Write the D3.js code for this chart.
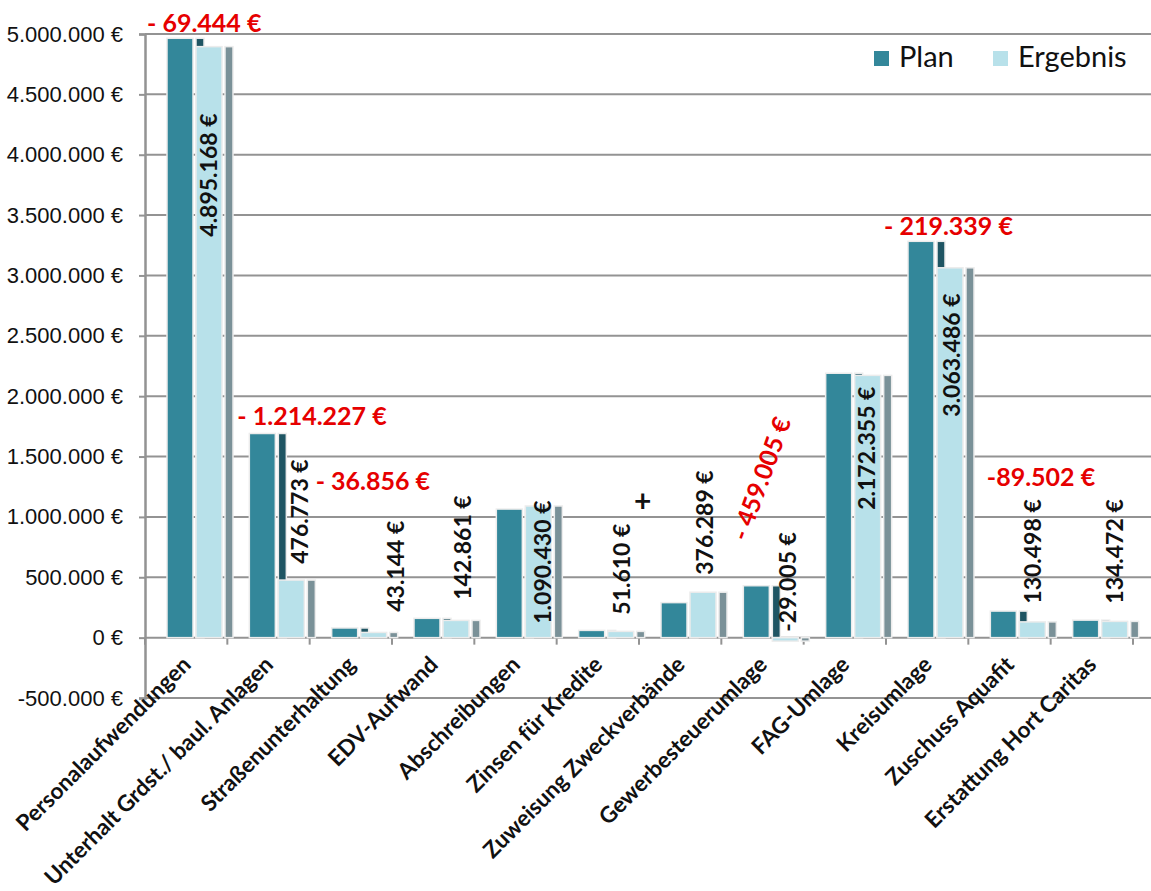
<!DOCTYPE html>
<html>
<head>
<meta charset="utf-8">
<script src="https://cdn.jsdelivr.net/npm/d3@7"></script>
<style>
  body { margin: 0; background: #fff; }
  svg { display: block; font-family: Lato, "Open Sans", sans-serif; }
  .ytick text { font-size: 22px; fill: #111; }
  .cat { font-size: 22.5px; font-weight: bold; fill: #111; }
  .val { font-size: 23px; font-weight: bold; fill: #111; }
  .diff { font-size: 25px; font-weight: bold; fill: #e60000; }
  .legend text { font-size: 29px; fill: #111; }
</style>
</head>
<body>
<svg id="chart" width="1151" height="891"></svg>
<script>
// categories and values
var categories = ["Personalaufwendungen", "Unterhalt Grdst./ baul. Anlagen", "Straßenunterhaltung",
  "EDV-Aufwand", "Abschreibungen", "Zinsen für Kredite", "Zuweisung Zweckverbände",
  "Gewerbesteuerumlage", "FAG-Umlage", "Kreisumlage", "Zuschuss Aquafit", "Erstattung Hort Caritas"];
var plan     = [4964612, 1691000, 80000, 160000, 1065000, 60000, 290000, 430000, 2190000, 3282825, 220000, 145000];
var ergebnis = [4895168, 476773, 43144, 142861, 1090430, 51610, 376289, -29005, 2172355, 3063486, 130498, 134472];
var yTicks = [-500000, 0, 500000, 1000000, 1500000, 2000000, 2500000, 3000000, 3500000, 4000000, 4500000, 5000000];
var seriesNames = ["Plan", "Ergebnis"];

// where the value labels sit (offset in band, start value on the axis)
var valueLabelPos = [[64, 3321000], [72, 612000], [86, 214500], [71, 314000], [68, 115000], [65, 190000],
  [65.5, 521000], [66.7, 49000], [63.4, 1059000], [66, 1830000], [64.7, 281000], [64.4, 281000]];
// red difference labels: category, prefix, x offset in band, baseline value, rotation
var diffLabels = [
  {cat: 0, pre: "- ", dx: 2, v: 5019000, rot: 0},
  {cat: 1, pre: "- ", dx: 10, v: 1763000, rot: 0},
  {cat: 2, pre: "- ", dx: 6, v: 1225000, rot: 0},
  {cat: 7, pre: "- ", dx: 26, v: 790000, rot: -70},
  {cat: 9, pre: "- ", dx: -2, v: 3338000, rot: 0},
  {cat: 10, pre: "-", dx: 18.5, v: 1258000, rot: 0}
];

var colors = {plan: "#33879a", planSide: "#1f5563", erg: "#b8e1ea", ergSide: "#7a9198"};

var de = d3.formatLocale({decimal: ",", thousands: ".", grouping: [3], currency: ["", " €"], minus: "-"});
var fmt = de.format(",d");

var svg = d3.select("#chart");
var left = 145, right = 1133;

var x = d3.scaleBand().domain(d3.range(categories.length)).range([left, right]).padding(0);
var y = d3.scaleLinear().domain([-500000, 5000000]).range([698, 34]);
var bw = x.bandwidth();

// grid
var grid = svg.append("g");
grid.selectAll("line").data(yTicks).enter().append("line")
  .attr("x1", left).attr("x2", 1151)
  .attr("y1", function(d) { return y(d); }).attr("y2", function(d) { return y(d); })
  .attr("stroke", "#939393").attr("stroke-width", 2);

// y axis
var yAxis = d3.axisLeft(y).tickValues(yTicks).tickSize(6).tickPadding(16)
  .tickFormat(function(d) { return fmt(d) + " €"; });
var ya = svg.append("g").attr("class", "ytick").attr("transform", "translate(" + left + ",0)").call(yAxis);
ya.select(".domain").attr("stroke", "#939393").attr("stroke-width", 2.5);
ya.selectAll(".tick line").attr("stroke", "#939393").attr("stroke-width", 2);

// category ticks on zero line
svg.append("g").selectAll("line").data(d3.range(categories.length + 1)).enter().append("line")
  .attr("x1", function(d) { return left + d * bw; }).attr("x2", function(d) { return left + d * bw; })
  .attr("y1", y(0)).attr("y2", y(0) + 7)
  .attr("stroke", "#939393").attr("stroke-width", 2);

// bars
var bars = svg.append("g");
var bStroke = "#ececec";
categories.forEach(function(c, i) {
  var off = x(i);
  var p = plan[i], e = ergebnis[i];
  bars.append("rect").attr("x", off + 51).attr("width", 8)
    .attr("y", y(Math.max(p, 0))).attr("height", Math.abs(y(p) - y(0)))
    .attr("fill", colors.planSide).attr("stroke", bStroke).attr("stroke-width", 1.5);
  bars.append("rect").attr("x", off + 22).attr("width", 26)
    .attr("y", y(Math.max(p, 0))).attr("height", Math.abs(y(p) - y(0)))
    .attr("fill", colors.plan).attr("stroke", bStroke).attr("stroke-width", 1.5);
  bars.append("rect").attr("x", off + 80).attr("width", 8)
    .attr("y", y(Math.max(e, 0))).attr("height", Math.abs(y(e) - y(0)))
    .attr("fill", colors.ergSide).attr("stroke", bStroke).attr("stroke-width", 1.5);
  bars.append("rect").attr("x", off + 51).attr("width", 26)
    .attr("y", y(Math.max(e, 0))).attr("height", Math.abs(y(e) - y(0)))
    .attr("fill", colors.erg).attr("stroke", bStroke).attr("stroke-width", 1.5);
});

// category labels
svg.append("g").selectAll("text").data(categories).enter().append("text")
  .attr("class", "cat")
  .attr("text-anchor", "end")
  .attr("transform", function(d, i) { return "translate(" + (x(i) + bw / 2 + 6) + "," + 666 + ") rotate(-45)"; })
  .text(function(d) { return d; });

// value labels
var vs = 23;
svg.append("g").selectAll("text").data(ergebnis).enter().append("text")
  .attr("class", "val")
  .attr("transform", function(d, i) {
    return "translate(" + (x(i) + valueLabelPos[i][0] + vs * 0.36) + "," + y(valueLabelPos[i][1]) + ") rotate(-90)";
  })
  .text(function(d) { return fmt(d) + " €"; });

// plus sign at Zinsen
svg.append("text").attr("class", "val").style("font-size", "30px")
  .attr("x", x(5) + 86).attr("y", y(1130000)).attr("text-anchor", "middle")
  .attr("dy", "0.35em").text("+");

// red difference labels
svg.append("g").selectAll("text").data(diffLabels).enter().append("text")
  .attr("class", "diff")
  .attr("transform", function(d) {
    return "translate(" + (x(d.cat) + d.dx) + "," + y(d.v) + ") rotate(" + d.rot + ")";
  })
  .text(function(d) { return d.pre + fmt(plan[d.cat] - ergebnis[d.cat]) + " €"; });

// legend
var lg = svg.append("g").attr("class", "legend");
var lx = [874, 993];
seriesNames.forEach(function(n, i) {
  lg.append("rect").attr("x", lx[i]).attr("y", 51).attr("width", 15).attr("height", 15)
    .attr("fill", i === 0 ? colors.plan : colors.erg);
  lg.append("text").attr("x", lx[i] + 25).attr("y", 67).text(n);
});
</script>
</body>
</html>
